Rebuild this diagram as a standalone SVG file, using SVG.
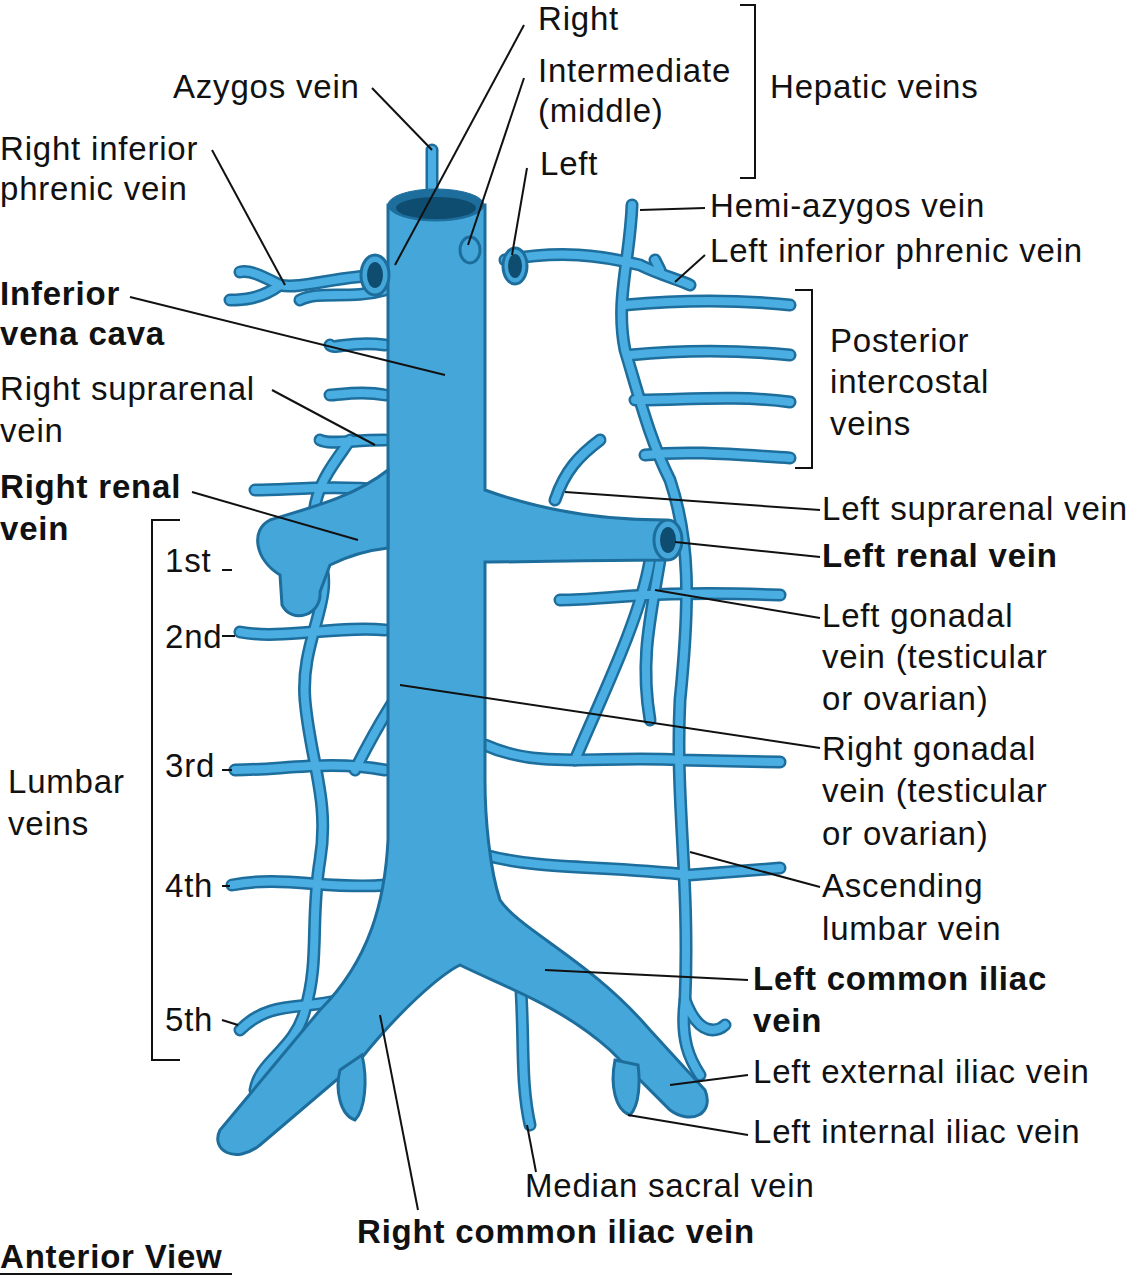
<svg xmlns="http://www.w3.org/2000/svg" xmlns:xlink="http://www.w3.org/1999/xlink" width="1146" height="1277" viewBox="0 0 1146 1277">
<style>
text{font-family:"Liberation Sans",Arial,sans-serif;font-size:33px;letter-spacing:0.8px;fill:#111}
.b{font-weight:bold}
.ld{stroke:#111;stroke-width:2;fill:none}
.big{fill:#45a6da;stroke:#1d6e9c;stroke-width:3}
.o{stroke:#1d6e9c;stroke-width:13;fill:none;stroke-linecap:round}
.i{stroke:#4aaee2;stroke-width:8;fill:none;stroke-linecap:round}
.hole{fill:#1d6e9c;stroke:#1d6e9c}
</style>
<defs>
<g id="small">
<path d="M350,440 C330,470 300,500 320,560 C335,600 300,640 305,700 C310,760 330,800 320,860 C310,920 320,960 305,1010 C295,1050 260,1060 255,1090"/>
<path d="M385,630 C340,625 280,640 240,632"/>
<path d="M385,770 C330,760 280,770 235,770"/>
<path d="M385,885 C330,890 280,875 232,885"/>
<path d="M340,1000 C300,1010 270,1000 240,1030"/>
<path d="M385,290 C350,300 320,290 300,300"/>
<path d="M385,345 C350,340 335,350 330,345"/>
<path d="M385,395 C360,390 340,395 330,395"/>
<path d="M385,440 C350,440 330,445 320,440"/>
<path d="M385,490 C330,485 290,490 255,490"/>
<path d="M385,275 C340,275 300,290 280,285 C260,275 250,270 240,272"/>
<path d="M280,285 C260,300 240,300 230,300"/>
<path d="M432,195 L432,150"/>
<path d="M425,655 C400,690 380,720 355,770"/>
<path d="M520,975 C525,1040 520,1080 530,1125"/>
<path d="M632,205 C630,260 615,300 625,350 C640,400 650,440 670,480 C690,540 690,600 680,700 C675,800 690,880 685,1000 C680,1040 690,1060 700,1075"/>
<path d="M650,560 C640,620 600,700 575,760"/>
<path d="M660,560 C650,620 640,660 650,720"/>
<path d="M485,745 C540,770 600,755 680,760 L780,762"/>
<path d="M485,855 C540,870 600,865 690,875 L780,868"/>
<path d="M560,600 C610,600 640,590 780,595"/>
<path d="M505,260 C560,250 600,255 640,265 C660,275 680,280 690,285"/>
<path d="M660,270 L655,260"/>
<path d="M625,305 C680,300 740,300 790,305"/>
<path d="M630,355 C680,350 740,350 790,355"/>
<path d="M635,400 C680,400 740,395 790,402"/>
<path d="M645,455 C690,450 740,455 790,458"/>
<path d="M555,500 C565,470 580,455 600,440"/>
<path d="M685,1000 C700,1040 720,1030 725,1025"/>
<path d="M410,450 C412,480 420,500 430,520"/>
</g>
</defs>
<rect width="1146" height="1277" fill="#fff"/>
<g id="veins">
<use xlink:href="#small" class="o"/>
<use xlink:href="#small" class="i"/>
<path class="big" d="M388,205 L388,840 C385,900 370,960 320,1010 L220,1130 C210,1150 235,1165 260,1145 L360,1060 C400,1010 440,975 460,965 C500,985 560,1005 610,1050 L670,1110 C690,1125 715,1115 705,1090 L650,1030 C590,960 520,930 500,900 C490,870 485,820 485,780 L485,562 C540,562 600,560 665,560 L665,520 C600,520 540,510 485,490 L485,205 Z"/>
<path class="big" d="M388,470 C350,500 300,510 270,520 C250,530 255,560 280,575 L282,605 C292,625 322,615 320,592 L330,565 C350,555 370,550 388,548 Z"/>
<path class="big" d="M340,1070 C335,1090 340,1115 355,1120 C365,1110 368,1080 362,1055 Z"/>
<path class="big" d="M615,1060 C610,1085 615,1110 630,1115 C640,1105 640,1080 638,1065 Z"/>
<ellipse cx="436" cy="205" rx="48" ry="16" class="hole"/>
<ellipse cx="436" cy="208" rx="40" ry="11" fill="#0f4d70"/>
<ellipse cx="375" cy="275" rx="14" ry="20" class="big"/>
<ellipse cx="375" cy="275" rx="8" ry="13" fill="#0f4d70"/>
<ellipse cx="470" cy="250" rx="10" ry="13" class="big"/>
<ellipse cx="515" cy="266" rx="12" ry="18" class="big"/>
<ellipse cx="515" cy="266" rx="7" ry="12" fill="#0f4d70"/>
<ellipse cx="668" cy="540" rx="14" ry="20" class="big"/>
<ellipse cx="668" cy="540" rx="8" ry="13" fill="#0f4d70"/>
</g>
<g id="labels">
<text x="538" y="30">Right</text>
<text x="538" y="82">Intermediate</text>
<text x="538" y="122">(middle)</text>
<text x="540" y="175">Left</text>
<path class="ld" d="M740,5 L755,5 L755,178 L740,178"/>
<text x="770" y="98">Hepatic veins</text>
<text x="173" y="98">Azygos vein</text>
<text x="0" y="160">Right inferior</text>
<text x="0" y="200">phrenic vein</text>
<text x="710" y="217">Hemi-azygos vein</text>
<text x="710" y="262">Left inferior phrenic vein</text>
<text x="0" y="305" class="b">Inferior</text>
<text x="0" y="345" class="b">vena cava</text>
<text x="0" y="400">Right suprarenal</text>
<text x="0" y="442">vein</text>
<path class="ld" d="M795,290 L812,290 L812,468 L795,468"/>
<text x="830" y="352">Posterior</text>
<text x="830" y="393">intercostal</text>
<text x="830" y="435">veins</text>
<text x="0" y="498" class="b">Right renal</text>
<text x="0" y="540" class="b">vein</text>
<text x="822" y="520">Left suprarenal vein</text>
<text x="822" y="567" class="b">Left renal vein</text>
<text x="822" y="627">Left gonadal</text>
<text x="822" y="668">vein (testicular</text>
<text x="822" y="710">or ovarian)</text>
<text x="822" y="760">Right gonadal</text>
<text x="822" y="802">vein (testicular</text>
<text x="822" y="845">or ovarian)</text>
<text x="822" y="897">Ascending</text>
<text x="822" y="940">lumbar vein</text>
<text x="753" y="990" class="b">Left common iliac</text>
<text x="753" y="1032" class="b">vein</text>
<text x="753" y="1083">Left external iliac vein</text>
<text x="753" y="1143">Left internal iliac vein</text>
<text x="525" y="1197">Median sacral vein</text>
<text x="357" y="1243" class="b">Right common iliac vein</text>
<text x="0" y="1268" class="b">Anterior View</text>
<line class="ld" x1="0" y1="1274" x2="232" y2="1274"/>
<text x="165" y="572">1st</text>
<text x="165" y="648">2nd</text>
<text x="165" y="777">3rd</text>
<text x="165" y="897">4th</text>
<text x="165" y="1031">5th</text>
<text x="8" y="793">Lumbar</text>
<text x="8" y="835">veins</text>
<path class="ld" d="M180,520 L152,520 L152,1060 L180,1060"/>
</g>
<g id="connectors" class="ld">
<path d="M524,25 L395,265"/>
<path d="M524,78 L468,245"/>
<path d="M527,168 L512,255"/>
<path d="M372,88 L432,150"/>
<path d="M212,150 L285,285"/>
<path d="M130,297 L445,375"/>
<path d="M272,390 L375,445"/>
<path d="M192,492 L358,540"/>
<path d="M705,208 L640,210"/>
<path d="M705,255 L675,282"/>
<path d="M820,510 L565,492"/>
<path d="M820,557 L675,542"/>
<path d="M820,618 L655,590"/>
<path d="M820,748 L400,685"/>
<path d="M820,887 L690,852"/>
<path d="M748,980 L545,970"/>
<path d="M748,1075 L670,1085"/>
<path d="M748,1135 L628,1115"/>
<path d="M536,1172 L527,1125"/>
<path d="M418,1210 L380,1015"/>
<path d="M222,570 L232,570 M222,636 L235,636 M222,770 L232,770 M222,886 L230,886 M222,1020 L238,1025"/>
</g>
</svg>
